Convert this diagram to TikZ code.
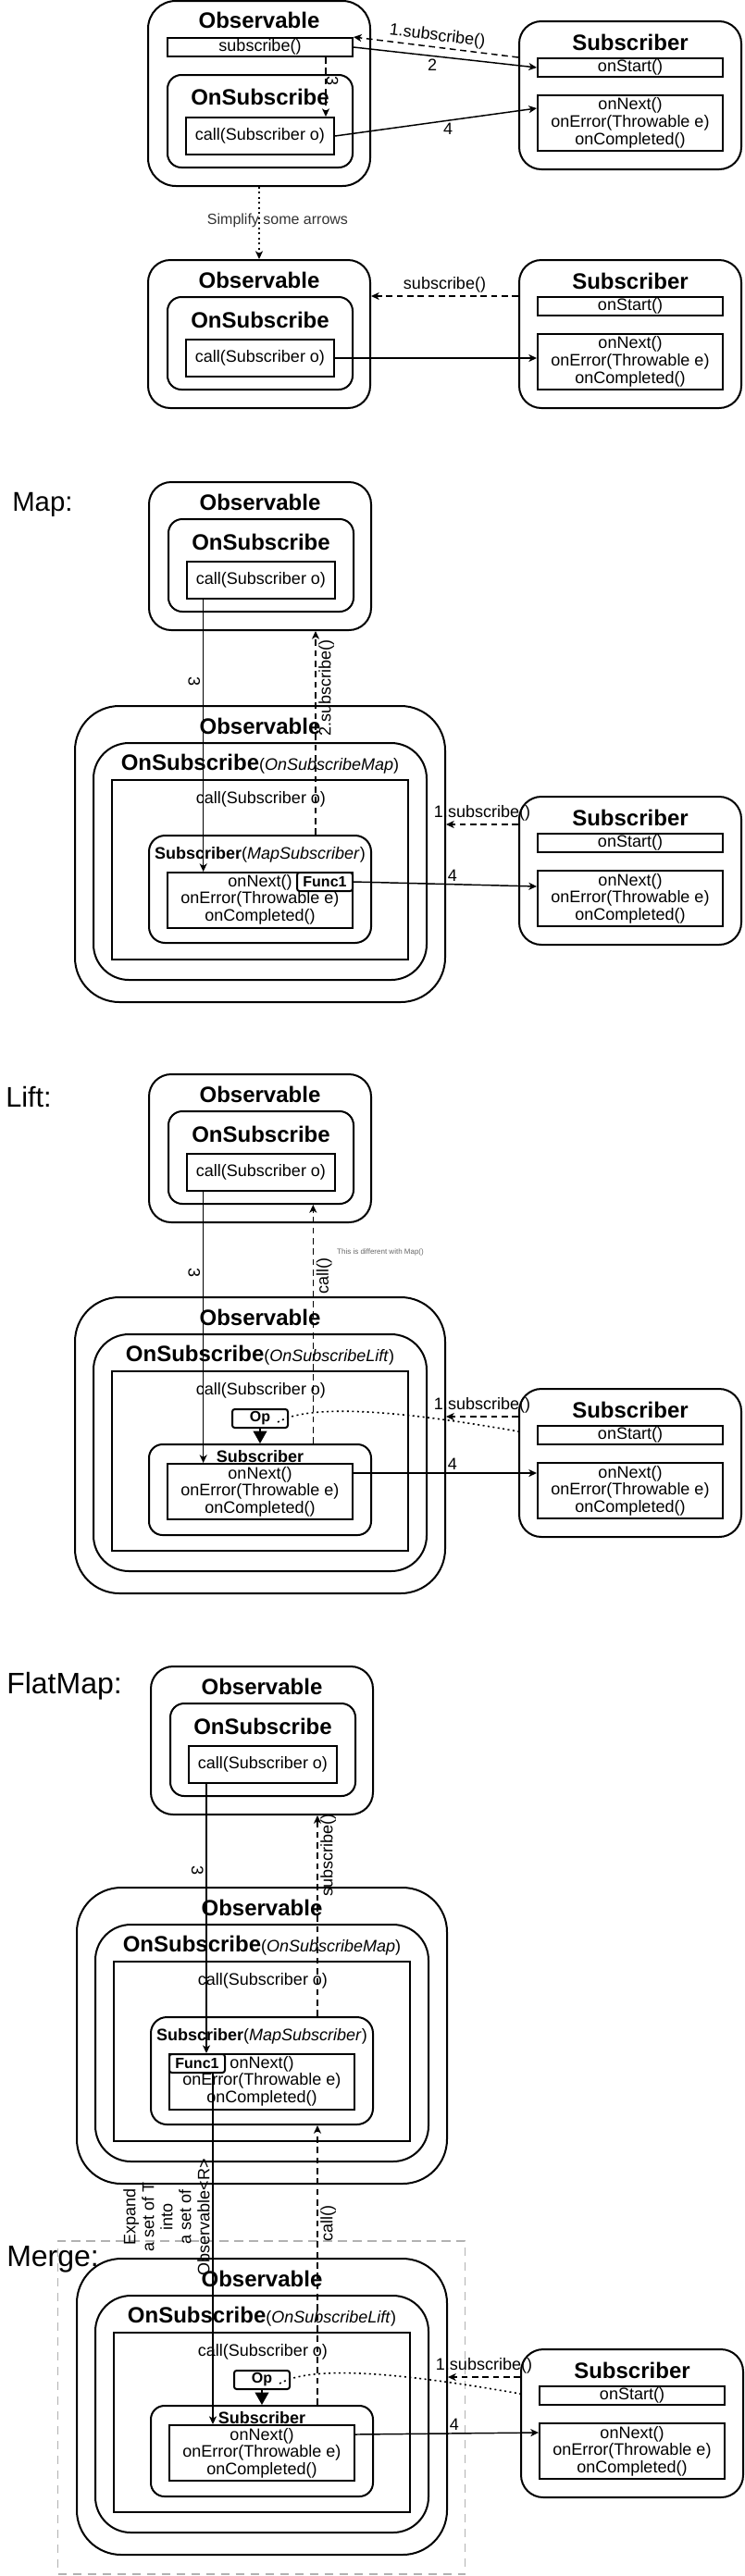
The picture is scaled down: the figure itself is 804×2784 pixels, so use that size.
\documentclass[tikz,border=0pt]{standalone}
\usepackage{fontspec}
\setmainfont{Liberation Sans}
\usetikzlibrary{arrows.meta,calc,positioning}

\begin{document}
\begin{tikzpicture}[x=0.75pt, y=-0.75pt,
  wh/.style 2 args={minimum width=#1*0.75pt, minimum height=#2*0.75pt},
  rbox/.style={draw, line width=1.5pt, rounded corners=#1, inner sep=0pt},
  sbox/.style={draw, line width=1.5pt, inner sep=0pt},
  fbox/.style={draw, fill=white, line width=1.5pt, rounded corners=2pt, inner sep=0pt,
    font=\fontsize{12}{14}\selectfont\bfseries},
  ttl/.style={font=\fontsize{18}{21}\selectfont\bfseries, inner sep=0pt},
  txt/.style={font=\fontsize{13.5}{14}\selectfont, inner sep=0pt},
  lbl/.style={font=\fontsize{13.5}{15}\selectfont, inner sep=2pt},
  sect/.style={font=\fontsize{24}{28}\selectfont, anchor=west, inner sep=0pt},
  note/.style={font=\fontsize{12}{14}\selectfont, text=black!80, inner sep=0pt},
  tiny/.style={font=\fontsize{6}{7}\selectfont, text=black!60, inner sep=0pt},
  arr/.style={-{Stealth[length=6.5pt,width=6pt,inset=1.8pt]}, line width=1.1pt},
  darr/.style={arr, dash pattern=on 5pt off 3.5pt},
  dotline/.style={line width=1.2pt, dash pattern=on 1.5pt off 2.6pt},
  blk/.style={-{Triangle[length=10pt,width=11pt]}, line width=1.2pt},
  grp/.style={draw=black!30, line width=1.1pt, dash pattern=on 7pt off 5pt, inner sep=0pt}]

\useasboundingbox (0,0) rectangle (804,2784);

% merge group frame
\node[grp, wh={440}{360}] (grpG) at (282.5,2602) {};

% first drawing: Observable with subscribe()
\node[rbox=22.5pt, wh={240}{200}] (obs0) at (280,101) {};
\node[ttl] (obs0t) at (280,22) {Observable};
\node[sbox, wh={200}{20}, txt] (sbs0) at (281,51) {subscribe()};
\node[rbox=11.25pt, wh={200}{100}] (ons0) at (281,131) {};
\node[ttl] (ons0t) at (281,105) {OnSubscribe};
\node[sbox, wh={160}{40}, txt] (call0) at (281,147) {call(Subscriber o)};

% small Observable stacks
\foreach \s/\x/\y in {1/280/281, M0/281/521, L0/281/1161, F0/283/1801}{
  \node[rbox=18pt, wh={240}{160}] (obs\s) at (\x,{\y+80}) {};
  \node[ttl] (obs\s t) at (\x,{\y+22}) {Observable};
  \node[rbox=11.25pt, wh={200}{100}] (ons\s) at ({\x+1},{\y+90}) {};
  \node[ttl] (ons\s t) at ({\x+1},{\y+65}) {OnSubscribe};
  \node[sbox, wh={160}{40}, txt] (call\s) at ({\x+1},{\y+106}) {call(Subscriber o)};
}

% outer Subscribers
\foreach \s/\x/\y in {0/681/23, 1/681/281, M/681/861, L/681/1501, G/683/2539}{
  \node[rbox=18pt, wh={240}{160}] (subr\s) at (\x,{\y+80}) {};
  \node[ttl] (subr\s t) at (\x,{\y+23}) {Subscriber};
  \node[sbox, wh={200}{20}, txt] (start\s) at (\x,{\y+50}) {onStart()};
  \node[sbox, wh={200}{60}, txt, align=center] (next\s) at (\x,{\y+110})
    {onNext()\\onError(Throwable e)\\onCompleted()};
}

% big Observables
\foreach \s/\x/\y/\k in {M/281/763/Map, L/281/1402/Lift, F/283/2040/Map, G/283/2441/Lift}{
  \node[rbox=36pt, wh={400}{320}] (obs\s) at (\x,{\y+160}) {};
  \node[ttl] (obs\s t) at (\x,{\y+22}) {Observable};
  \node[rbox=28.8pt, wh={360}{256}] (ons\s) at (\x,{\y+168}) {};
  \node[ttl] (ons\s t) at (\x,{\y+63}) {OnSubscribe{\fontsize{13.5}{14}\selectfont\mdseries(\textit{OnSubscribe\k})}};
  \node[sbox, wh={320}{194}] (sq\s) at (\x,{\y+177}) {};
  \node[txt] (sq\s t) at ({\x+1},{\y+101}) {call(Subscriber o)};
}

% MapSubscriber
\foreach \s/\x/\y/\f in {M/281/763/70, F/283/2040/-70}{
  \node[rbox=13pt, wh={240}{116}] (msub\s) at (\x,{\y+198}) {};
  \node[txt] (msub\s t) at (\x,{\y+161}) {\textbf{Subscriber}(\textit{MapSubscriber})};
  \node[sbox, wh={200}{60}] (nx\s) at (\x,{\y+210}) {};
  \node[txt, align=center] (nx\s t) at (\x,{\y+209}) {onNext()\\onError(Throwable e)\\onCompleted()};
  \node[fbox, wh={60}{20}] (func\s) at ({\x+\f},{\y+190}) {Func1};
}

% lifted Subscriber
\foreach \s/\x/\y in {L/281/1402, G/283/2441}{
  \node[fbox, wh={60}{20}] (op\s) at (\x,{\y+131}) {Op};
  \node[rbox=11pt, wh={240}{98}] (msub\s) at (\x,{\y+208}) {};
  \node[txt, font=\fontsize{13.5}{14}\selectfont\bfseries] (msub\s t) at (\x,{\y+172}) {Subscriber};
  \node[sbox, wh={200}{60}, txt, align=center] (nx\s) at (\x,{\y+210})
    {onNext()\\onError(Throwable e)\\onCompleted()};
  \draw[blk] (op\s.south) -- (msub\s.north);
}

% section titles
\node[sect, font=\fontsize{22}{26}\selectfont] (tMap) at (13,545) {Map:};
\node[sect, font=\fontsize{23}{27}\selectfont] (tLift) at (6,1185) {Lift:};
\node[sect] (tFlat) at (7,1822) {FlatMap:};
\node[sect] (tMerge) at (7,2442) {Merge:};

% first drawing arrows
\draw[darr] (subr0.west |- start0.north) -- node[above, sloped, lbl] {1.subscribe()} (sbs0.north east);
\draw[arr] (sbs0.east) -- node[below, pos=0.43, lbl] {2} (start0.west);
\draw[darr] ([xshift=-22.5pt]sbs0.south east) -- node[lbl, rotate=-90, anchor=south, inner sep=0pt, pos=0.4] {3} ([xshift=-7.5pt]call0.north east);
\draw[arr] (call0.east) -- node[below, pos=0.56, lbl] {4} ([yshift=12pt]next0.west);
\draw[dotline, -{Stealth[length=6.5pt,width=6pt,inset=1.8pt]}] (obs0.south) -- node[pos=0.47, xshift=15pt, note] {Simplify some arrows} (obs1.north);

% simplified
\draw[darr] (subr1.west |- start1.north) -- node[above, lbl] {subscribe()} (obs1.east |- start1.north);
\draw[arr] (call1.east) -- (next1.west |- call1.east);

% Map
\coordinate (m3) at ([xshift=14pt]callM0.south west);
\coordinate (m2) at ([xshift=45pt]msubM.north);
\coordinate (m1) at ([yshift=37.5pt]subrM.west);
\draw[arr] (m3) -- node[lbl, rotate=-90, anchor=north, pos=0.3] {3} (m3 |- nxM.north);
\draw[darr] (m2) -- node[lbl, rotate=90, anchor=north, pos=0.72] {2.subscribe()} (m2 |- obsM0.south);
\draw[darr] (m1) -- node[above, lbl] {1.subscribe()} (m1 -| obsM.east);
\draw[arr] (funcM.east) -- node[above, pos=0.54, lbl] {4} ([yshift=9.75pt]nextM.west);

% Lift
\coordinate (l3) at ([xshift=14pt]callL0.south west);
\coordinate (l2) at ([xshift=43pt]msubL.north);
\coordinate (l1) at ([yshift=37.5pt]subrL.west);
\draw[arr] (l3) -- node[lbl, rotate=-90, anchor=north, pos=0.3] {3} (l3 |- nxL.north);
\draw[darr] (l2) -- node[lbl, rotate=90, anchor=north, pos=0.7] {call()} (l2 |- onsL0.south);
\node[tiny] (noteL) at (411,1353) {This is different with Map()};
\draw[darr] (l1) -- node[above, lbl] {1.subscribe()} (l1 -| obsL.east);
\draw[dotline] ([xshift=-9pt,yshift=-3pt]opL.east) .. controls +(30:30pt) and +(170:100pt) .. ([yshift=25.5pt]subrL.west);
\draw[arr] ([yshift=15pt]nxL.east) -- node[above, pos=0.54, lbl] {4} ([yshift=14.25pt]nextL.west);

% FlatMap
\coordinate (f3) at ([xshift=15pt]callF0.south west);
\coordinate (f2) at ([xshift=45pt]msubF.north);
\coordinate (f5) at ([xshift=12.75pt]funcF.south);
\draw[arr] (f3) -- node[lbl, rotate=-90, anchor=north, pos=0.32] {3} (f3 |- funcF.north);
\draw[darr] (f2) -- node[lbl, rotate=90, anchor=north, pos=0.8] {subscribe()} (f2 |- obsF0.south);
\draw[arr] (f5) -- node[lbl, rotate=90, anchor=south, pos=0.41, align=center]
  {Expand\\a set of T\\into\\a set of\\Observable<R>} (f5 |- nxG.north);

% Merge
\coordinate (g2) at ([xshift=45pt]msubG.north);
\coordinate (g1) at ([yshift=37.5pt]subrG.west);
\draw[darr] (g2) -- node[lbl, rotate=90, anchor=north, pos=0.65] {call()} (g2 |- msubF.south);
\draw[darr] (g1) -- node[above, lbl] {1.subscribe()} (g1 -| obsG.east);
\draw[dotline] ([xshift=-9pt,yshift=-3pt]opG.east) .. controls +(30:30pt) and +(170:100pt) .. ([yshift=24pt]subrG.west);
\draw[arr] ([yshift=15pt]nxG.east) -- node[above, pos=0.54, lbl] {4} ([yshift=15pt]nextG.west);
\end{tikzpicture}
\end{document}
